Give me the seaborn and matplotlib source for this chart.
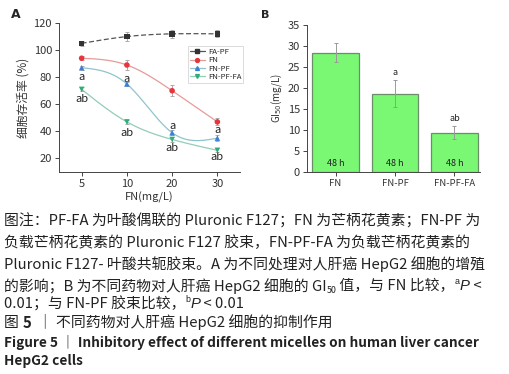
import numpy as np
import pandas as pd
import matplotlib
matplotlib.use("Agg")
import matplotlib.pyplot as plt
import seaborn as sns

# ---------------- data ----------------
conc_labels = ["5", "10", "20", "30"]
fapf = [105, 110, 112, 112]
fapf_err = [2, 3, 3, 2.5]
fn = [94, 89, 70, 47]
fn_err = [1.5, 4, 4, 2.5]
fnpf = [87, 75, 39, 35]
fnpf_err = [1.5, 1.5, 2, 2]
fnpffa = [71, 47, 34, 26]
fnpffa_err = [1.5, 1.5, 2, 1.5]
series_names = ["FA-PF", "FN", "FN-PF", "FN-PF-FA"]

# letter annotations (text, x index, y position)
ann_a = [("a", 0, 80), ("ab", 0, 64), ("a", 1, 79), ("ab", 1, 39),
         ("a", 2, 44), ("ab", 2, 27.5), ("a", 3, 41), ("ab", 3, 21)]

bar_cats = ["FN", "FN-PF", "FN-PF-FA"]
bar_vals = [28.4, 18.6, 9.4]
bar_errs = [2.2, 3.2, 1.5]
bar_sig = ["", "a", "ab"]

caption_lines = [
    "图注：PF-FA 为叶酸偶联的 Pluronic F127；FN 为芒柄花黄素；FN-PF 为",
    "负载芒柄花黄素的 Pluronic F127 胶束，FN-PF-FA 为负载芒柄花黄素的",
    "Pluronic F127- 叶酸共轭胶束。A 为不同处理对人肝癌 HepG2 细胞的增殖",
]
# segments: (text, kind) kind: n=normal, sub, sup, it, b
caption_line4 = [("的影响；B 为不同药物对人肝癌 HepG2 细胞的 GI", "n"), ("50", "sub"),
                 (" 值，与 FN 比较，", "n"), ("a", "sup"), ("P", "it"), (" <", "n")]
caption_line5 = [("0.01；与 FN-PF 胶束比较，", "n"), ("b", "sup"), ("P", "it"), (" < 0.01", "n")]
fig_title_cn = [("图 ", "n"), ("5", "b"), ("  ｜ 不同药物对人肝癌 HepG2 细胞的抑制作用", "n")]
fig_title_en = ["Figure 5 ｜ Inhibitory effect of different micelles on human liver cancer",
                "HepG2 cells"]

# ---------------- style ----------------
sns.set_theme(style="ticks")
CJK = ["Noto Sans CJK SC", "DejaVu Sans"]
plt.rcParams["font.family"] = CJK
plt.rcParams["mathtext.fontset"] = "dejavusans"

W, H = 510, 374
fig = plt.figure(figsize=(W / 100, H / 100), dpi=100)

# ---------------- panel A ----------------
axA = fig.add_axes([59 / W, 1 - 172 / H, 181 / W, 149 / H])
xs = np.arange(len(conc_labels))

def natural_spline(x, y, n=60):
    x = np.asarray(x, float); y = np.asarray(y, float)
    k = len(x)
    A = np.zeros((k, k)); rhs = np.zeros(k)
    A[0, 0] = A[-1, -1] = 1
    for i in range(1, k - 1):
        A[i, i - 1], A[i, i], A[i, i + 1] = 1, 4, 1
        rhs[i] = 6 * (y[i + 1] - 2 * y[i] + y[i - 1])
    M = np.linalg.solve(A, rhs)
    xx, yy = [], []
    for i in range(k - 1):
        t = np.linspace(x[i], x[i + 1], n)
        a = x[i + 1] - t; b = t - x[i]
        s = M[i] * a ** 3 / 6 + M[i + 1] * b ** 3 / 6 + (y[i] - M[i] / 6) * a + (y[i + 1] - M[i + 1] / 6) * b
        xx.append(t); yy.append(s)
    return np.concatenate(xx), np.concatenate(yy)

vals = [fapf, fn, fnpf, fnpffa]
errs = [fapf_err, fn_err, fnpf_err, fnpffa_err]
line_cols = ["#555555", "#e89a9a", "#8fc4cc", "#92cdb8"]
mk_cols = ["#333333", "#e8343c", "#3a7fd8", "#2eae76"]
markers = ["s", "o", "^", "v"]
styles = [(0, (4, 2)), "-", "-", "-"]

rows = []
for name, v in zip(series_names, vals):
    for xi, yi in zip(xs, v):
        rows.append({"series": name, "x": xi, "y": yi})
dfA = pd.DataFrame(rows)

for name, v, e, lc, mc, mk, ls in zip(series_names, vals, errs, line_cols, mk_cols, markers, styles):
    sx, sy = natural_spline(xs, v)
    axA.plot(sx, sy, color=lc, lw=0.9, ls=ls, zorder=2)
    axA.errorbar(xs, v, yerr=e, fmt="none", ecolor="#aaaaaa", elinewidth=0.7, capsize=1.5, capthick=0.7, zorder=3)
    sub = dfA[dfA.series == name]
    sns.scatterplot(data=sub, x="x", y="y", ax=axA, marker=mk, color=mc, s=16,
                    edgecolor="none", zorder=4, legend=False)

from matplotlib.lines import Line2D
handles = [Line2D([0], [0], color=lc, lw=0.9, marker=mk, markersize=2.8, markerfacecolor=mc,
                  markeredgecolor=mc) for lc, mc, mk in zip(line_cols, mk_cols, markers)]
leg = axA.legend(handles, series_names, loc="upper left", bbox_to_anchor=(0.713, 0.846),
                 frameon=True, handlelength=1.9, handletextpad=0.4,
                 borderpad=0.25, labelspacing=0.05, borderaxespad=0,
                 prop={"family": CJK, "size": 5.6})
leg.get_frame().set_edgecolor("#cccccc"); leg.get_frame().set_linewidth(0.6)
leg.get_frame().set_boxstyle("square", pad=0)

for txt, xi, yv in ann_a:
    axA.text(xi, yv, txt, ha="center", va="center", fontsize=8, color="#222222")

axA.set_xlim(-0.5, 3.5)
axA.set_ylim(10, 120)
axA.set_xticks(xs)
axA.set_xticklabels(conc_labels)
axA.set_yticks([20, 40, 60, 80, 100, 120])
axA.tick_params(labelsize=8, length=3, width=0.7, color="#444444", labelcolor="#333333", pad=2)
for s in ["left", "bottom"]:
    axA.spines[s].set_linewidth(0.7); axA.spines[s].set_color("#444444")
sns.despine(ax=axA)
axA.set_xlabel("FN(mg/L)", fontsize=8, color="#333333", labelpad=2)
axA.set_ylabel("细胞存活率 (%)", fontsize=8.5, color="#333333", labelpad=3)
fig.text(16 / W, 1 - 14 / H, "A", fontsize=9, fontweight="bold", ha="center", va="center",
         family=["DejaVu Sans"])

# ---------------- panel B ----------------
axB = fig.add_axes([307 / W, 1 - 172 / H, 173 / W, 147 / H])
dfB = pd.DataFrame({"cat": bar_cats, "val": bar_vals})
sns.barplot(data=dfB, x="cat", y="val", ax=axB, color="#7af874", width=0.79,
            edgecolor="#6a8f68", linewidth=0.9, saturation=1, errorbar=None)
axB.errorbar(np.arange(len(bar_cats)), bar_vals, yerr=bar_errs, fmt="none",
             ecolor="#999999", elinewidth=0.7, capsize=1.5, capthick=0.7, zorder=5)
for i, (v, e, s) in enumerate(zip(bar_vals, bar_errs, bar_sig)):
    axB.text(i, 2.0, "48 h", ha="center", va="center", fontsize=6.5, color="#222222",
             fontweight="medium")
    if s:
        axB.text(i, v + e + 1.8, s, ha="center", va="center", fontsize=6.5, color="#222222")
axB.set_xlim(-0.48, 2.43)
axB.set_ylim(0, 35)
axB.set_yticks(range(0, 36, 5))
axB.tick_params(labelsize=8, length=3, width=0.7, color="#444444", labelcolor="#333333", pad=2)
axB.tick_params(axis="x", labelsize=6.8)
for s in ["left", "bottom"]:
    axB.spines[s].set_linewidth(0.7); axB.spines[s].set_color("#444444")
sns.despine(ax=axB)
axB.set_xlabel("")
axB.set_ylabel("GI$_{50}$(mg/L)", fontsize=7, color="#333333", labelpad=3)
fig.text(265 / W, 1 - 15 / H, "B", fontsize=8, fontweight="bold", ha="center", va="center",
         family=["DejaVu Sans"])

# ---------------- caption ----------------
FS = 10.7
BASE = 5.5  # baseline offset below visual centre, px
renderer = fig.canvas.get_renderer()

def draw_segments(x_px, yc_px, segs):
    x = x_px
    for txt, kind in segs:
        kw = dict(fontsize=FS, color="#222222", ha="left", va="baseline")
        dy = 0
        if kind == "sub":
            kw["fontsize"] = FS * 0.6; dy = 2.5
        elif kind == "sup":
            kw["fontsize"] = FS * 0.6; dy = -6
            kw["family"] = ["Liberation Sans"]
        elif kind == "it":
            kw["family"] = ["Liberation Sans"]; kw["fontstyle"] = "italic"
        elif kind == "b":
            kw["fontweight"] = "bold"
        t = fig.text(x / W, 1 - (yc_px + BASE + dy) / H, txt, **kw)
        x += t.get_window_extent(renderer).width

cap_y = [220, 242, 263]
for yy, line in zip(cap_y, caption_lines):
    fig.text(4 / W, 1 - (yy + BASE) / H, line, fontsize=FS, ha="left", va="baseline", color="#222222")
draw_segments(4, 285, caption_line4)
draw_segments(4, 303, caption_line5)
draw_segments(4, 322, fig_title_cn)
fig.text(4 / W, 1 - 342 / H, fig_title_en[0], fontsize=9.8, ha="left", va="center",
         color="#222222", fontweight="bold")
fig.text(4 / W, 1 - 361 / H, fig_title_en[1], fontsize=9.8, ha="left", va="center",
         color="#222222", fontweight="bold")

fig.savefig("out.png", dpi=100)
